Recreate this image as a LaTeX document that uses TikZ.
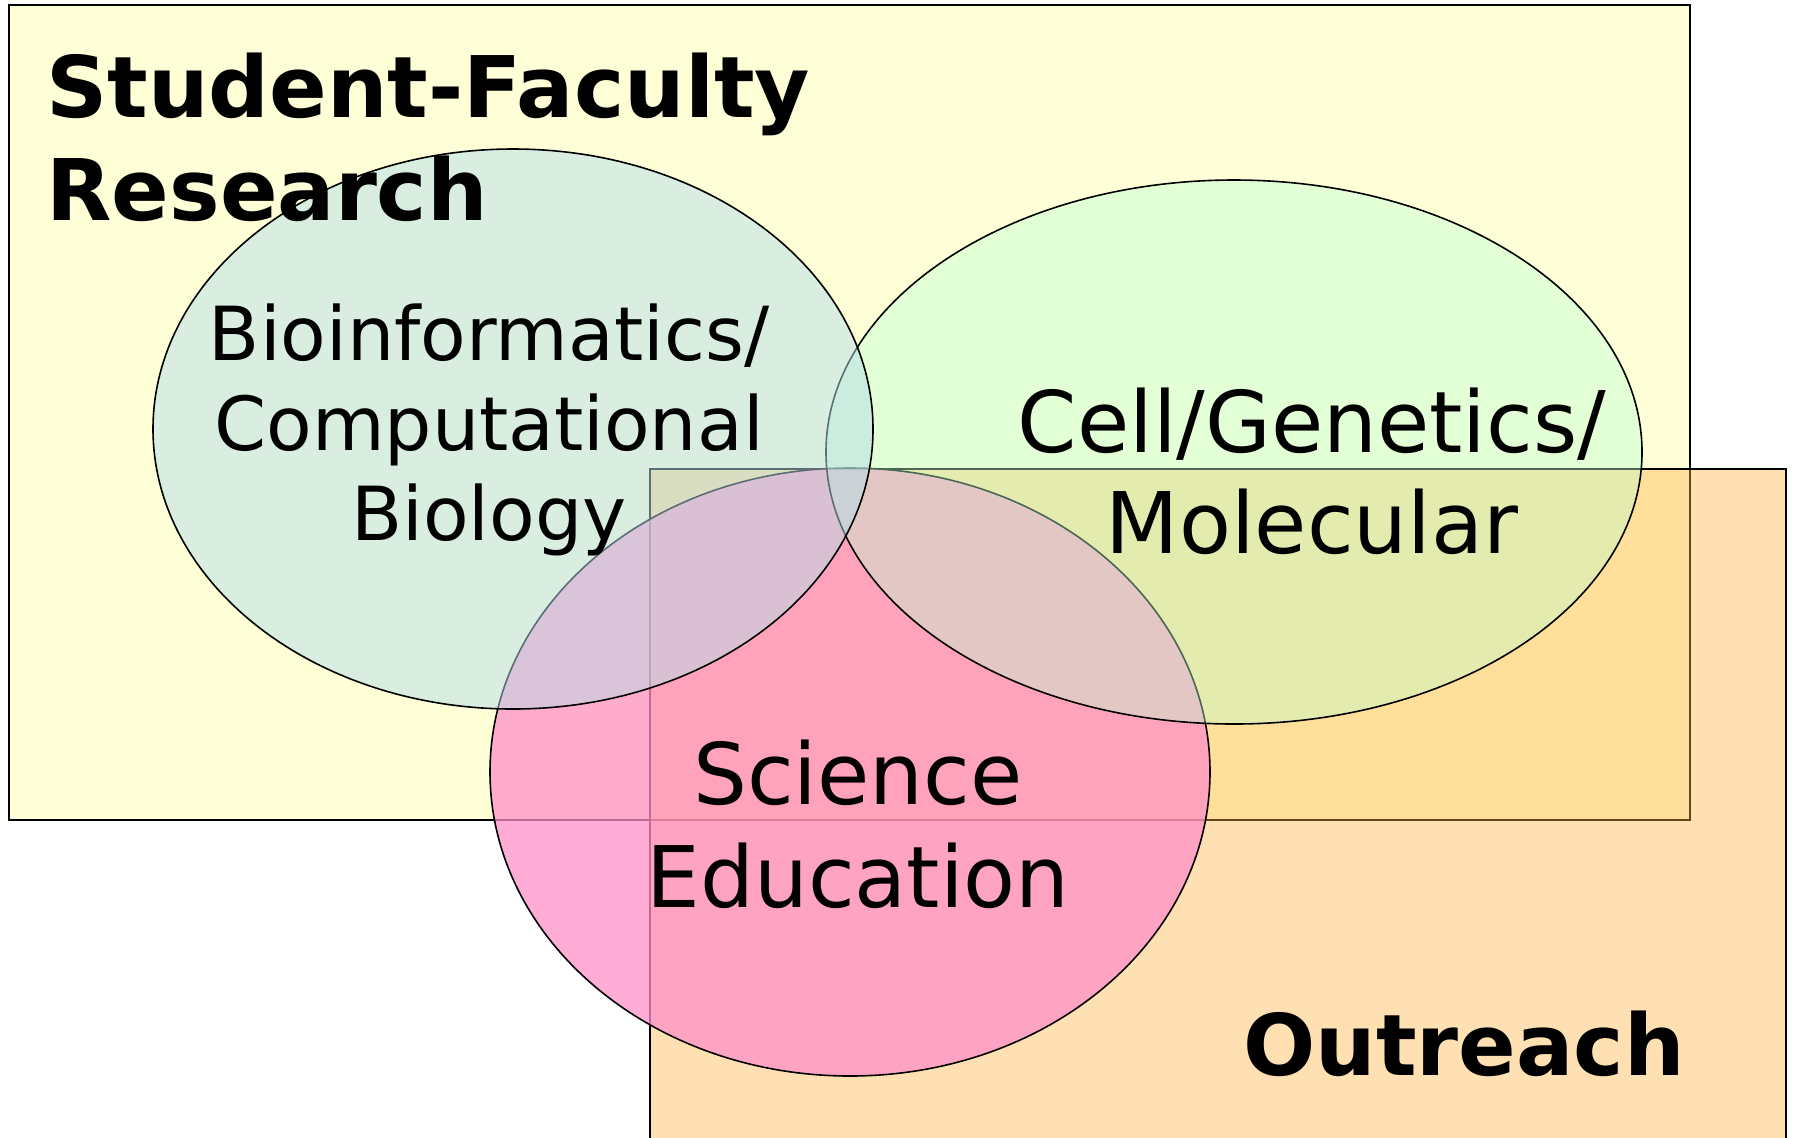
\documentclass[tikz,border=0pt]{standalone}
\usepackage{fontspec}
\setmainfont{DejaVu Sans}
\usepackage{xcolor}

\definecolor{researchbg}{RGB}{255,255,215}
\definecolor{outreachbg}{RGB}{255,177,62}
\definecolor{sciencebg}{RGB}{255,144,200}
\definecolor{cellbg}{RGB}{187,255,210}
\definecolor{bioinfbg}{RGB}{181,221,233}

\tikzset{
  areatitle/.style={font=\bfseries\fontsize{42.5}{51.5}\selectfont, inner sep=0pt},
  fieldtext/.style={align=center, inner sep=0pt},
  edge/.style={color=black, line width=0.8pt}
}

\begin{document}
\begin{tikzpicture}[x=0.5pt,y=-0.5pt]
\useasboundingbox (0,0) rectangle (1793,1137);
\clip (0,0) rectangle (1793,1137);

% the two boxes
\draw[edge,fill=researchbg] (9,5) rectangle (1690,820);
\draw[edge,fill=outreachbg,fill opacity=0.4] (650,469) rectangle (1786,1200);

% the three fields
\draw[edge,fill=sciencebg,fill opacity=0.75] (850,772) ellipse (360 and 304);
\draw[edge,fill=cellbg,fill opacity=0.4] (1234,452) ellipse (408 and 272);
\draw[edge,fill=bioinfbg,fill opacity=0.5] (513,429) ellipse (360 and 280);

\node[areatitle,align=left,anchor=base west] (research) at (46,220) {Student-Faculty\\Research};
\node[areatitle,anchor=base east] (outreach) at (1685,1075) {Outreach};

\node[fieldtext,font=\fontsize{37.3}{45}\selectfont,anchor=base] (bioinf) at (489,540) {Bioinformatics/\\Computational\\Biology};
\node[fieldtext,font=\fontsize{42.5}{50.5}\selectfont,anchor=base] (cellgen) at (1312,553) {Cell/Genetics/\\Molecular};
\node[fieldtext,font=\fontsize{42.5}{51.5}\selectfont,anchor=base] (scied) at (858,907) {Science\\Education};

\end{tikzpicture}
\end{document}
